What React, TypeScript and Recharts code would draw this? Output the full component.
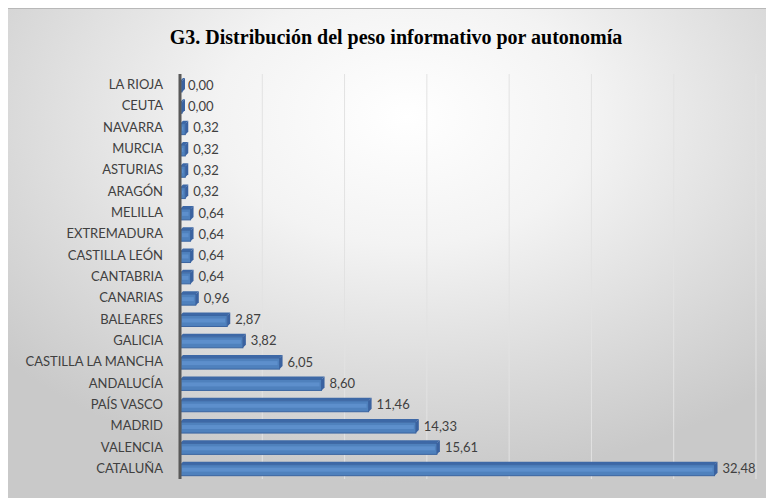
import React from 'react';
import { BarChart, Bar, XAxis, YAxis, CartesianGrid, LabelList } from 'recharts';

const regions = [
  'LA RIOJA', 'CEUTA', 'NAVARRA', 'MURCIA', 'ASTURIAS', 'ARAGÓN', 'MELILLA',
  'EXTREMADURA', 'CASTILLA LEÓN', 'CANTABRIA', 'CANARIAS', 'BALEARES', 'GALICIA',
  'CASTILLA LA MANCHA', 'ANDALUCÍA', 'PAÍS VASCO', 'MADRID', 'VALENCIA', 'CATALUÑA',
];
const weights = [
  0.0, 0.0, 0.32, 0.32, 0.32, 0.32, 0.64, 0.64, 0.64, 0.64, 0.96, 2.87, 3.82,
  6.05, 8.6, 11.46, 14.33, 15.61, 32.48,
];
const xTicks = [0, 5, 10, 15, 20, 25, 30, 35];

const data = regions.map((name, i) => ({ name, value: weights[i] }));

const fmt = (v: number) => v.toFixed(2).replace('.', ',');

// 3D-ish bar: front face plus a top and right face
const Bar3D = (props: any) => {
  const { x, y, width, height } = props;
  const d = 3;
  const w = Math.max(width, 2);
  const top = y + d;
  return (
    <g>
      <rect x={x} y={top} width={w} height={height - d} fill="#4f81bd" stroke="#3a64a0" strokeWidth={1} />
      <rect x={x + 2} y={top + 3} width={Math.max(w - 4, 0)} height={Math.max(height - d - 7, 0)} fill="#5d8fcc" />
      <polygon
        points={`${x},${top} ${x + d},${y} ${x + w + d},${y} ${x + w},${top}`}
        fill="#3d68a6"
      />
      <polygon
        points={`${x + w},${top} ${x + w + d},${y} ${x + w + d},${y + height - d} ${x + w},${y + height}`}
        fill="#3a62a0"
      />
    </g>
  );
};

// single-line category label (no wrapping)
const RegionTick = (props: any) => {
  const { x, y, payload } = props;
  return (
    <text
      x={x}
      y={y}
      dy={4.5}
      textAnchor="end"
      fill="#404040"
      fontSize={13}
      fontFamily="Lato, sans-serif"
    >
      {payload.value}
    </text>
  );
};

const App = () => {
  return (
    <div
      style={{
        position: 'relative',
        width: 766,
        height: 490,
        boxSizing: 'border-box',
        borderTop: '1px solid #b8b8b8',
        background: 'radial-gradient(ellipse 70% 75% at 52% 22%, #ffffff 0%, #f3f3f3 35%, #dcdcdc 70%, #c9c9c9 100%)',
      }}
    >
      <div
        style={{
          position: 'absolute',
          top: 17,
          left: 0,
          width: 776,
          textAlign: 'center',
          fontFamily: '"Liberation Serif", serif',
          fontWeight: 'bold',
          fontSize: 20,
          color: '#000',
        }}
      >
        G3. Distribución del peso informativo por autonomía
      </div>
      <BarChart
        width={766}
        height={489}
        data={data}
        layout="vertical"
        margin={{ top: 65, right: 18, left: 0, bottom: 19 }}
        barSize={14}
      >
        <CartesianGrid horizontal={false} stroke="#e2e2e2" />
        <XAxis type="number" domain={[0, 35]} ticks={xTicks} hide />
        <YAxis
          type="category"
          dataKey="name"
          width={172}
          tickSize={0}
          tickMargin={17}
          tickLine={false}
          axisLine={{ stroke: '#595959', strokeWidth: 3 }}
          tick={<RegionTick />}
          interval={0}
        />
        <Bar dataKey="value" shape={<Bar3D />} isAnimationActive={false}>
          <LabelList
            dataKey="value"
            position="right"
            offset={8}
            formatter={(v: any) => fmt(Number(v))}
            style={{ fill: '#404040', fontSize: 13, fontFamily: 'Lato, sans-serif' }}
          />
        </Bar>
      </BarChart>
    </div>
  );
};

export default App;
